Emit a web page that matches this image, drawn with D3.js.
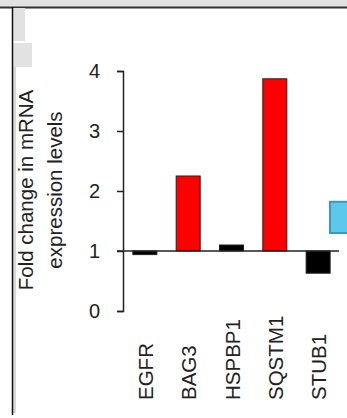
<!DOCTYPE html>
<html lang="en">
<head>
  <meta charset="UTF-8">
  <title>index</title>
  <style type="text/css">
    body {
      margin: 0;
      background: #fff;
    }
    svg text {
      font-family: "Liberation Sans", Arial, sans-serif;
      fill: #222;
    }
  </style>
</head>
<body>
  <svg id="chart" width="347" height="418"></svg>

<script src="https://d3js.org/d3.v7.min.js"></script>
<script>
  const genes = ['EGFR', 'BAG3', 'HSPBP1', 'SQSTM1', 'STUB1']
  const foldChange = [0.94, 2.25, 1.1, 3.87, 0.63]
  const yTicks = [0, 1, 2, 3, 4]
  const yTitle = ['Fold change in mRNA', 'expression levels']

  const svg = d3.select('#chart')

  // page frame bits around the figure
  svg.append('rect').attr('x', 0).attr('y', 0).attr('width', 347).attr('height', 7)
    .attr('fill', '#e2e2e2')
  svg.append('line').attr('x1', 0).attr('x2', 347).attr('y1', 7.5).attr('y2', 7.5)
    .attr('stroke', '#333').attr('stroke-width', 2)
  svg.append('rect').attr('x', 13).attr('y', 8).attr('width', 12).attr('height', 33)
    .attr('fill', '#e2e2e2')
  svg.append('rect').attr('x', 13).attr('y', 43).attr('width', 19).attr('height', 24)
    .attr('fill', '#e2e2e2')
  svg.append('rect').attr('x', 13).attr('y', 67).attr('width', 3).attr('height', 346)
    .attr('fill', '#d8d8d8')
  svg.append('line').attr('x1', 12.5).attr('x2', 12.5).attr('y1', 7).attr('y2', 415)
    .attr('stroke', '#111').attr('stroke-width', 1.5)

  const x = d3.scaleBand()
    .domain(genes)
    .range([123, 340])
    .paddingInner(0.446)
    .paddingOuter(0.228)

  const y = d3.scaleLinear()
    .domain([0, 4])
    .range([311, 71])

  // y axis
  const yAxis = svg.append('g')
    .attr('transform', 'translate(123,0)')
    .call(d3.axisLeft(y).tickValues(yTicks).tickFormat(d3.format('d'))
      .tickSize(6).tickSizeOuter(6).tickPadding(17))
  yAxis.selectAll('path, line').attr('stroke', '#222').attr('stroke-width', 1.5)
  yAxis.selectAll('text')
    .style('font-size', '20px')
    .attr('fill', '#222')

  // y title
  const title = svg.append('text')
    .attr('transform', 'translate(33,' + (y(2) - 1) + ') rotate(-90)')
    .attr('text-anchor', 'middle')
    .style('font-size', '20.5px')
  title.selectAll('tspan')
    .data(yTitle)
    .enter()
    .append('tspan')
    .attr('x', 0)
    .attr('y', (d, i) => i * 29)
    .text(d => d)

  // bars from baseline 1
  svg.selectAll('rect.bar')
    .data(foldChange)
    .enter()
    .append('rect')
    .attr('class', 'bar')
    .attr('x', (d, i) => x(genes[i]))
    .attr('width', x.bandwidth())
    .attr('y', d => Math.min(y(d), y(1)))
    .attr('height', d => Math.abs(y(d) - y(1)))
    .attr('fill', d => d > 1.5 ? '#ff0000' : '#000')
    .attr('stroke', '#222')
    .attr('stroke-width', 1)

  // baseline
  svg.append('line')
    .attr('x1', 117).attr('x2', 339)
    .attr('y1', y(1)).attr('y2', y(1))
    .attr('stroke', '#222').attr('stroke-width', 1.5)

  // x labels
  svg.selectAll('text.gene')
    .data(genes)
    .enter()
    .append('text')
    .attr('class', 'gene')
    .attr('transform', d => 'translate(' + (x(d) + x.bandwidth() / 2 + 1) + ',400) rotate(-90)')
    .attr('dy', '0.35em')
    .attr('text-anchor', 'start')
    .style('font-size', '20.5px')
    .text(d => d)

  // blue box cut at the right edge
  svg.append('rect')
    .attr('x', 330).attr('y', y(1.82))
    .attr('width', 30).attr('height', y(1.3) - y(1.82))
    .attr('fill', '#5bc8ec')
    .attr('stroke', '#3a9ab8')
    .attr('stroke-width', 2)
</script>
</body>
</html>
